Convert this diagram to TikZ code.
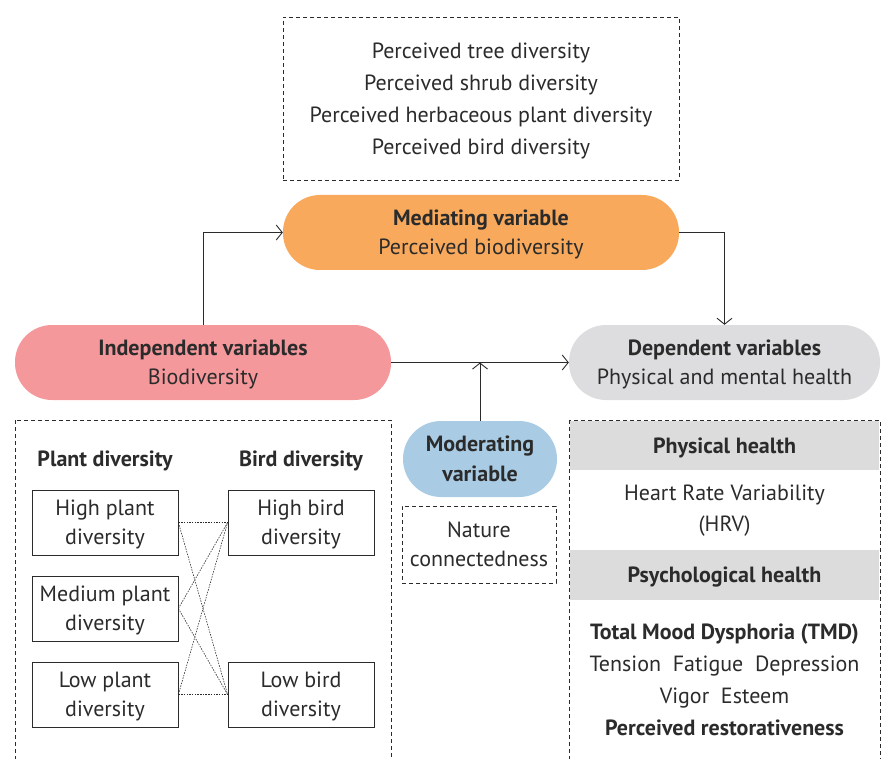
\documentclass[tikz,border=0pt]{standalone}
\usepackage{fontspec}
\setmainfont{PT Sans}
\usepackage{tikz}
\usetikzlibrary{arrows.meta,positioning}
\definecolor{medorange}{HTML}{F8A95C}
\definecolor{indpink}{HTML}{F4989C}
\definecolor{depgrey}{HTML}{DDDDDF}
\definecolor{modblue}{HTML}{A9CCE4}
\definecolor{bandgrey}{HTML}{DCDCDD}
\definecolor{inkgrey}{HTML}{2B2B2B}

\begin{document}
\begin{tikzpicture}[x=1pt, y=-1pt,
    every node/.style={text=inkgrey, font=\fontsize{22}{31}\selectfont},
    pill/.style={rounded corners=37pt, minimum height=75pt, align=center, inner sep=0pt, text depth=-4pt},
    dashbox/.style={draw=inkgrey, dash pattern=on 4pt off 3pt, line width=0.8pt},
    varbox/.style={draw=inkgrey, line width=0.8pt, minimum width=146pt, minimum height=65pt, align=center, inner sep=0pt,
        text depth=-2pt, font=\fontsize{22}{29}\selectfont},
    band/.style={fill=bandgrey, minimum width=309pt, minimum height=49pt, inner sep=0pt, text depth=0pt},
    link/.style={draw=inkgrey, line width=0.9pt, -{Straight Barb[length=6pt,width=15pt]}},
    cross/.style={draw=inkgrey, line width=0.6pt, dash pattern=on 1.5pt off 1.2pt}]
    \useasboundingbox (0,0) rectangle (894,759);
    \clip (0,0) rectangle (894,759);

    % Perceived biodiversity items
    \node[dashbox, minimum width=396pt, minimum height=163pt, align=center, text depth=0pt, font=\fontsize{22}{32}\selectfont] (items) at (481,98.5)
        {Perceived tree diversity\\Perceived shrub diversity\\Perceived herbaceous plant diversity\\Perceived bird diversity};

    % Main variables
    \node[pill, fill=medorange, minimum width=396pt, font=\fontsize{22}{29}\selectfont] (med) at (481,232.5)
        {\textbf{Mediating variable}\\Perceived biodiversity};
    \node[pill, fill=indpink, minimum width=376pt, font=\fontsize{22}{29}\selectfont] (ind) at (203,362.5)
        {\textbf{Independent variables}\\Biodiversity};
    \node[pill, fill=depgrey, minimum width=311pt, font=\fontsize{22}{29}\selectfont] (dep) at (724.5,362.5)
        {\textbf{Dependent variables}\\Physical and mental health};
    \node[pill, fill=modblue, minimum width=154pt, minimum height=76pt, rounded corners=38pt, text depth=0pt, font=\fontsize{22}{30}\selectfont] (mod) at (480,459)
        {\textbf{Moderating}\\\textbf{variable}};
    \node[dashbox, minimum width=154pt, minimum height=77pt, align=center, font=\fontsize{22}{29}\selectfont] (nat) at (479,544.5)
        {Nature\\connectedness};

    % Arrows
    \coordinate (join) at (mod.north |- ind.east);
    \draw[link] (ind.north) |- (med.west);
    \draw[link] (med.east) -| (dep.north);
    \draw[link] (ind.east) -- (dep.west);
    \draw[link] (mod.north) -- (join);

    % Independent variables box
    \draw[dashbox] (15,420) rectangle (391,775);
    \node[font=\bfseries\fontsize{22}{31}\selectfont] (planthead) at (105,461) {Plant diversity};
    \node[font=\bfseries\fontsize{22}{31}\selectfont] (birdhead) at (301,461) {Bird diversity};
    \node[varbox] (hp) at (105,522.5) {High plant\\diversity};
    \node[varbox] (mp) at (105,608.5) {Medium plant\\diversity};
    \node[varbox] (lp) at (105,694.5) {Low plant\\diversity};
    \node[varbox] (hb) at (301,522.5) {High bird\\diversity};
    \node[varbox] (lb) at (301,694.5) {Low bird\\diversity};
    \draw[cross] (hp.east) -- (hb.west);
    \draw[cross] (hp.east) -- (lb.west);
    \draw[cross] (mp.east) -- (hb.west);
    \draw[cross] (mp.east) -- (lb.west);
    \draw[cross] (lp.east) -- (hb.west);
    \draw[cross] (lp.east) -- (lb.west);

    % Dependent variables box
    \node[band] (phys) at (724.5,445.5) {\textbf{Physical health}};
    \node[band, minimum height=50pt] (psych) at (724.5,575) {\textbf{Psychological health}};
    \draw[dashbox] (569,420) rectangle (880,775);
    \node[align=center] (hrv) at (724.5,511) {Heart Rate Variability\\(HRV)};
    \node[align=center, font=\fontsize{22}{32}\selectfont] (mood) at (724.5,679.5)
        {\textbf{Total Mood Dysphoria (TMD)}\\Tension\ \ Fatigue\ \ Depression\\Vigor\ \ Esteem\\\textbf{Perceived restorativeness}};
\end{tikzpicture}
\end{document}
